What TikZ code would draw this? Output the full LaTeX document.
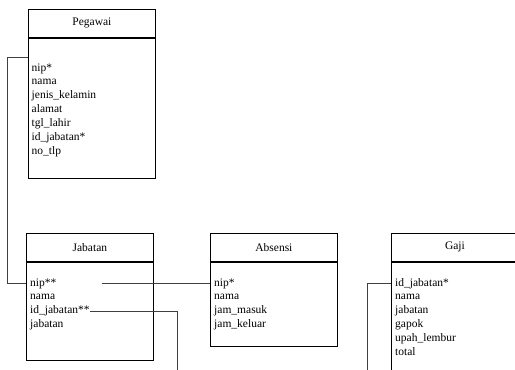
\documentclass[tikz,border=0pt]{standalone}
\usepackage{fontspec}
\setmainfont{Liberation Serif}
\begin{document}
\begin{tikzpicture}[x=1pt,y=-1pt,
  tblfont/.style={font=\fontsize{11.5}{13.9}\selectfont},
  head/.style={draw, line width=0.8pt, minimum width=127pt, minimum height=28pt, inner sep=0pt, anchor=north west, tblfont},
  tbody/.style={draw, line width=0.8pt, minimum width=127pt, inner sep=0pt, anchor=north west},
  field/.style={anchor=base west, inner sep=0pt, tblfont},
  link/.style={draw, line width=0.8pt, color=black!75}]
\clip (0,0) rectangle (515,370);
\fill[white] (0,0) rectangle (515,370);
% Pegawai
\node[head] (pegH) at (28,9) {Pegawai};
\node[tbody, minimum height=140pt] (pegB) at (pegH.south west) {};
\foreach \t [count=\i] in {nip*,nama,jenis\_kelamin,alamat,tgl\_lahir,id\_jabatan*,no\_tlp}
  \node[field] (peg-\i) at (31.5,{71+(\i-1)*13.9}) {\t};
% Jabatan
\node[head] (jabH) at (26,233) {Jabatan};
\node[tbody, minimum height=98pt] (jabB) at (jabH.south west) {};
\foreach \t [count=\i] in {nip**,nama,id\_jabatan**,jabatan}
  \node[field] (jab-\i) at (30,{286+(\i-1)*13.9}) {\t};
% Absensi
\node[head] (absH) at (210,233) {Absensi};
\node[tbody, minimum height=84pt] (absB) at (absH.south west) {};
\foreach \t [count=\i] in {nip*,nama,jam\_masuk,jam\_keluar}
  \node[field] (abs-\i) at (214,{286+(\i-1)*13.9}) {\t};
% Gaji
\node[head] (gajH) at (391,233) {Gaji};
\node[tbody, minimum height=160pt] (gajB) at (gajH.south west) {};
\foreach \t [count=\i] in {id\_jabatan*,nama,jabatan,gapok,upah\_lembur,total}
  \node[field] (gaj-\i) at (395,{286+(\i-1)*13.9}) {\t};
% connectors
\coordinate (jabDown) at (177,373);
\coordinate (gajDown) at (367,373);
\draw[link] ([yshift=-20pt]pegB.north west) -- ++(-21,0) |- (jabB.west |- jab-1.mid);
\draw[link] ([xshift=45pt]jab-1.mid east) -- (absB.west |- abs-1.mid);
\draw[link] (jab-3.mid east) -| (jabDown);
\draw[link] (gajB.west |- gaj-1.mid) -| (gajDown);
\end{tikzpicture}
\end{document}
